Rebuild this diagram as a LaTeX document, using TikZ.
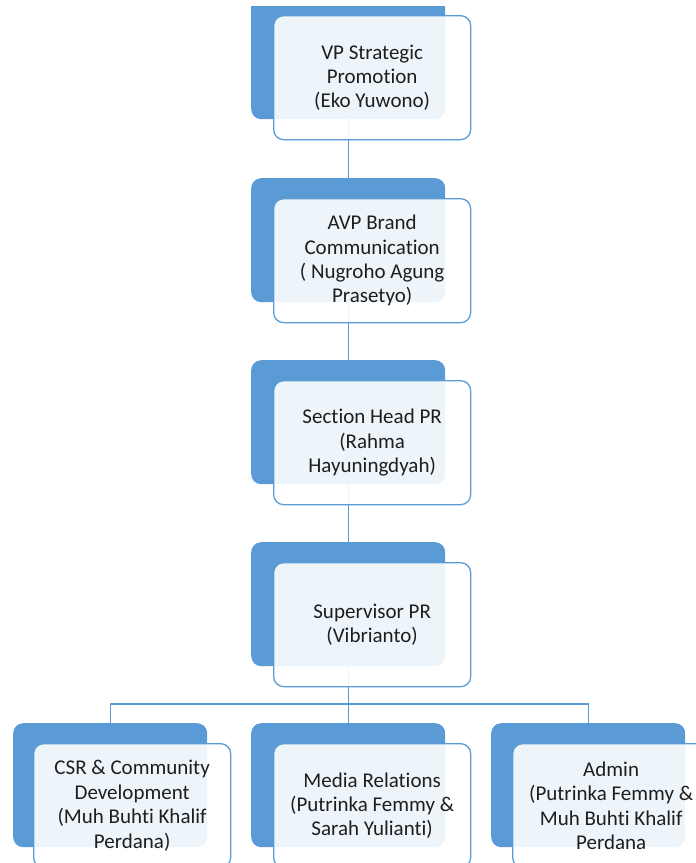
\documentclass[tikz,border=0pt]{standalone}
\usepackage{fontspec}
\setmainfont[Ligatures={NoCommon}]{Carlito}
\usetikzlibrary{backgrounds}
\definecolor{obl}{HTML}{5B9BD5}
\definecolor{txt}{HTML}{1E1E1E}
\begin{document}
\begin{tikzpicture}[x=1pt,y=-1pt,
 back/.style={fill=obl, rounded corners=10pt, minimum width=194pt, minimum height=124pt, inner sep=0pt, anchor=north west},
 front/.style={draw=obl, line width=1.3pt, fill=white, fill opacity=0.9, text opacity=1, rounded corners=10pt, minimum width=197pt, minimum height=124pt, inner sep=0pt, anchor=north west, align=center, font=\fontsize{21}{24.4}\selectfont, text=txt},
 link/.style={draw=obl, line width=1.3pt}]
\useasboundingbox (0,0) rectangle (696,863);
\clip (0,6) rectangle (696,863);
% back boxes
\node[back] (b1) at (251,-5) {};
\node[back] (b2) at (251,178) {};
\node[back] (b3) at (251,360) {};
\node[back] (b4) at (251,542) {};
\node[back] (b5) at (13,723) {};
\node[back] (b6) at (251,723) {};
\node[back] (b7) at (491,723) {};
% connectors (behind)
\coordinate (bus) at (0,704);
\begin{scope}[on background layer]
\path[link] (b1.center) -- (b2.center) -- (b3.center) -- (b4.center) -- (b6.center);
\path[link] (b5.center) -- (b5.center |- bus) -| (b7.center);
\end{scope}
% front boxes
\node[front] (f1) at (273,15) {VP Strategic\\Promotion\\(Eko Yuwono)};
\node[front] (f2) at (273,198) {AVP Brand\\Communication\\( Nugroho Agung\\Prasetyo)};
\node[front] (f3) at (273,380) {Section Head PR\\(Rahma\\Hayuningdyah)};
\node[front] (f4) at (273,562) {Supervisor PR\\(Vibrianto)};
\node[front] (f5) at (33,743) {CSR \& Community\\Development\\(Muh Buhti Khalif\\Perdana)};
\node[front] (f6) at (273,743) {Media Relations\\(Putrinka Femmy \&\\Sarah Yulianti)};
\node[front] (f7) at (512,743) {Admin\\(Putrinka Femmy \&\\Muh Buhti Khalif\\Perdana};
\end{tikzpicture}
\end{document}
